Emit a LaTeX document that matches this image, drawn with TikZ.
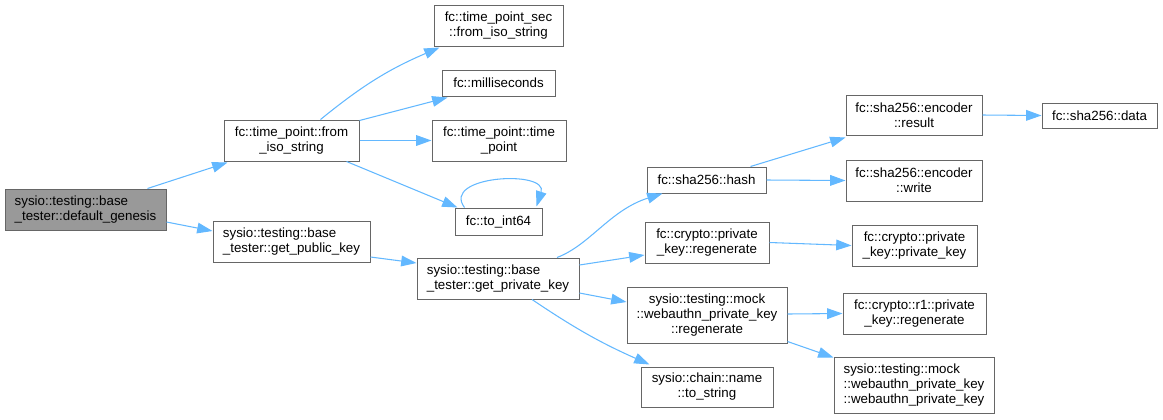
\documentclass[tikz,border=0pt]{standalone}
\usepackage{fontspec}
\setmainfont{Liberation Sans}
\usetikzlibrary{arrows.meta,calc}
\definecolor{edgec}{HTML}{63B8FF}
\definecolor{bordc}{HTML}{666666}
\definecolor{gfill}{HTML}{999999}
\begin{document}
\begin{tikzpicture}[x=0.75pt,y=-0.75pt,
  box/.style={draw=bordc, line width=0.75pt, fill=white, inner sep=0pt,
    font=\fontsize{10}{11.25}\selectfont, align=center},
  lbox/.style={box, align=left},
  link/.style={draw=edgec, line width=0.8pt, -{Triangle[length=11.5pt,width=8pt]}}]
\useasboundingbox (0,0) rectangle (1163,419);
% nodes
\node[lbox, fill=gfill, minimum width=120.75pt, minimum height=30.75pt] (dg) at (85.5,209.5) {sysio::testing::base\\\_tester::default\_genesis};
\node[box, minimum width=101.25pt, minimum height=30.75pt] (fis) at (291.5,140.5) {fc::time\_point::from\\\_iso\_string};
\node[lbox, minimum width=117.75pt, minimum height=30.75pt] (gpub) at (291.5,241.5) {sysio::testing::base\\\_tester::get\_public\_key};
\node[box, minimum width=96.75pt, minimum height=30.75pt] (tps) at (498.5,25.5) {fc::time\_point\_sec\\::from\_iso\_string};
\node[box, minimum width=84.75pt, minimum height=19.5pt] (ms) at (498.5,83) {fc::milliseconds};
\node[box, minimum width=100.5pt, minimum height=30.75pt] (tp) at (499,140.5) {fc::time\_point::time\\\_point};
\node[box, minimum width=65.25pt, minimum height=20.25pt] (i64) at (498.5,221.5) {fc::to\_int64};
\node[lbox, minimum width=121.5pt, minimum height=30.75pt] (gpriv) at (498,278.5) {sysio::testing::base\\\_tester::get\_private\_key};
\node[box, minimum width=89.25pt, minimum height=19.5pt] (hash) at (706.5,180) {fc::sha256::hash};
\node[box, minimum width=93pt, minimum height=30.75pt] (cpr) at (707,242.5) {fc::crypto::private\\\_key::regenerate};
\node[box, minimum width=120pt, minimum height=42pt] (mreg) at (707,315) {sysio::testing::mock\\::webauthn\_private\_key\\::regenerate};
\node[box, minimum width=99pt, minimum height=30pt] (nts) at (707,387) {sysio::chain::name\\::to\_string};
\node[box, minimum width=102pt, minimum height=30pt] (er) at (914,115) {fc::sha256::encoder\\::result};
\node[box, minimum width=102pt, minimum height=30.75pt] (ew) at (914,180.5) {fc::sha256::encoder\\::write};
\node[box, minimum width=86.25pt, minimum height=18.75pt] (data) at (1099.5,115.5) {fc::sha256::data};
\node[box, minimum width=93.75pt, minimum height=30.75pt] (pkpk) at (914.5,245.5) {fc::crypto::private\\\_key::private\_key};
\node[box, minimum width=107.25pt, minimum height=30.75pt] (r1) at (914.5,313.5) {fc::crypto::r1::private\\\_key::regenerate};
\node[lbox, minimum width=120pt, minimum height=42pt] (wpk) at (914,385) {sysio::testing::mock\\::webauthn\_private\_key\\::webauthn\_private\_key};
% edges
\draw[link] ($(dg.north)+(62,0)$) -- ($(fis.south west)+(4,1)$);
\draw[link] ($(dg.east)+(0,12.5)$) -- ($(gpub.west)+(0,-10.5)$);
\draw[link] ($(fis.north)+(29,0)$) to[bend left=8] ($(tps.south west)+(6,1)$);
\draw[link] ($(fis.north east)+(0,1)$) -- ($(ms.south west)+(6,1)$);
\draw[link] (fis.east) -- (tp.west);
\draw[link] ($(fis.south east)+(-13,0)$) -- ($(i64.north west)+(3,0)$);
\draw[link] ($(i64.north west)+(10,0)$) .. controls ($(i64.north west)+(-14,-32)$) and ($(i64.north east)+(6,-38)$) .. ($(i64.north east)+(-6,-1)$);
\draw[link] ($(gpub.east)+(0,15.5)$) -- ($(gpriv.west)+(0,-15.5)$);
\draw[link] ($(gpriv.north)+(59,0)$) .. controls (590,245) and (610,210) .. ($(hash.south west)+(16,0)$);
\draw[link] ($(gpriv.east)+(0,-13.5)$) -- ($(cpr.west)+(0,12.5)$);
\draw[link] ($(gpriv.east)+(0,14.5)$) -- ($(mreg.west)+(0,-13)$);
\draw[link] ($(gpriv.south)+(34,0)$) to[bend right=5] ($(nts.north west)+(9,-2)$);
\draw[link] ($(hash.north)+(44,0)$) -- ($(er.south west)+(0,2)$);
\draw[link] (hash.east) -- (ew.west);
\draw[link] (er.east) -- (data.west);
\draw[link] (cpr.east) -- (pkpk.west);
\draw[link] ($(mreg.east)+(0,-1)$) -- (r1.west);
\draw[link] ($(mreg.south east)+(0,-2)$) -- ($(wpk.north west)+(0,1)$);
\end{tikzpicture}
\end{document}
